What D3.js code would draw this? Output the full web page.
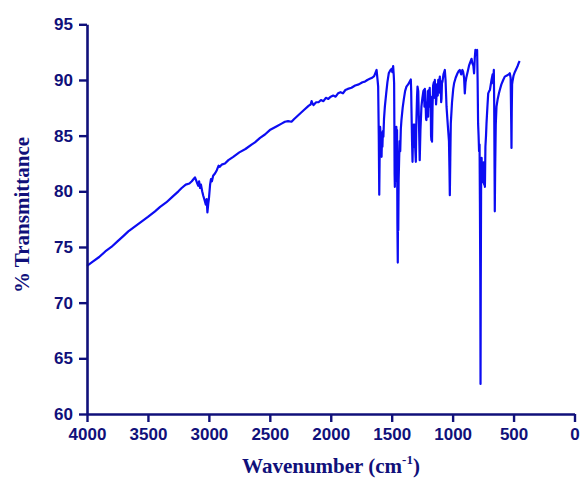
<!DOCTYPE html>
<html>
<head>
<meta charset="utf-8">
<script src="https://cdn.jsdelivr.net/npm/d3@7"></script>
<style>
  html, body { margin: 0; padding: 0; background: #ffffff; }
  svg { display: block; }
</style>
</head>
<body>
<svg id="chart" width="582" height="483"></svg>
<script>
// IR spectrum: wavenumber (cm^-1) and % transmittance, high to low wavenumber
const wavenumbers = [
  4000,3950,3900,3850,3800,3750,3700,3661,3600,3550,3500,3442,3400,3350,3300,3250,3223,3190,3160,3140,
  3125,3114,3105,3095,3087,3080,3072,3065,3055,3046,3035,3025,3018,3012,3005,3000,2990,2983,2975,2965,
  2950,2935,2920,2910,2895,2868,2840,2800,2750,2700,2650,2622,2580,2540,2500,2450,2400,2376,2350,2322,
  2300,2260,2220,2180,2165,2157,2150,2141,2120,2100,2080,2060,2040,2020,2000,1980,1960,1940,1920,1900,
  1880,1860,1830,1800,1770,1740,1720,1700,1680,1660,1644,1635,1624,1615,1611,1606,1602,1598,1595,1592,
  1589,1586,1583,1580,1576,1572,1568,1563,1556,1545,1535,1524,1510,1500,1495,1488,1483,1480,1478,1476,
  1474,1471,1468,1465,1462,1459,1456,1453,1450,1448,1446,1443,1439,1435,1430,1425,1420,1410,1400,1390,
  1379,1365,1355,1343,1340,1338,1333,1329,1325,1322,1319,1316,1313,1310,1305,1302,1298,1292,1288,1282,
  1276,1270,1264,1256,1248,1240,1235,1231,1228,1225,1222,1218,1215,1211,1208,1204,1201,1196,1192,1188,
  1184,1180,1177,1174,1171,1169,1165,1160,1154,1150,1146,1143,1140,1136,1133,1129,1126,1122,1118,1114,
  1110,1105,1101,1098,1094,1091,1087,1084,1075,1064,1058,1050,1040,1030,1026,1023,1019,1015,1005,995,
  988,975,960,950,941,930,920,914,906,900,894,886,875,865,855,845,838,830,824,818,
  813,805,799,795,791,787,783,779,776,773,771,769,766,762,759,755,750,746,741,737,
  735,731,726,722,715,708,700,694,681,672,667,662,659,656,654,651,646,640,630,620,
  613,600,585,572,555,540,531,524,519,517,515,512,509,500,490,477,465,455,450
];
const transmittance = [
  73.3,73.7,74.1,74.6,75.0,75.5,76.0,76.4,76.9,77.3,77.7,78.2,78.6,79.0,79.5,80.0,80.3,80.6,80.7,80.9,
  81.1,81.25,81.0,80.7,80.5,80.9,80.3,80.6,80.0,79.6,79.2,78.8,79.3,78.1,78.9,79.3,80.6,81.1,80.9,81.4,
  81.6,81.9,82.3,82.2,82.4,82.5,82.8,83.1,83.5,83.8,84.2,84.4,84.8,85.1,85.5,85.8,86.1,86.25,86.3,86.25,
  86.5,86.9,87.3,87.7,87.8,88.1,87.9,87.75,88.0,88.0,88.2,88.1,88.4,88.3,88.5,88.6,88.5,88.8,88.9,88.8,
  89.1,89.2,89.3,89.5,89.6,89.8,89.85,90.0,90.1,90.2,90.35,90.6,90.9,89.9,89.4,85.0,79.7,84.0,85.8,85.2,
  84.0,85.3,83.1,84.6,84.0,85.4,84.9,86.5,87.6,88.8,89.8,90.6,90.9,91.0,90.7,91.25,90.4,89.7,86.0,81.5,
  80.4,84.0,80.9,84.6,85.8,84.2,85.5,77.0,73.6,79.0,76.5,81.0,82.8,84.5,83.6,85.6,86.4,87.5,88.3,89.0,
  89.4,89.6,89.8,90.05,89.0,87.6,84.5,82.65,85.0,84.0,86.0,85.2,86.0,84.6,83.4,82.65,86.0,88.5,89.4,89.0,
  86.0,82.8,85.5,87.6,88.4,89.0,89.1,87.6,89.2,87.9,88.0,86.5,86.4,88.0,87.5,89.0,86.7,89.1,88.0,89.3,
  87.6,88.5,85.0,84.6,86.5,84.45,87.5,89.5,89.8,88.4,90.0,88.8,89.5,87.8,88.35,89.6,89.5,88.6,90.0,88.9,
  89.7,90.3,88.8,89.8,88.0,88.35,89.9,89.8,90.5,90.9,90.0,87.6,86.0,84.5,82.0,79.65,83.0,86.1,88.0,89.2,
  89.7,90.2,90.6,90.8,90.9,90.5,90.9,90.75,90.2,88.8,89.8,90.3,90.8,91.3,91.6,91.9,91.5,91.3,90.6,92.0,
  92.7,92.6,92.7,90.0,86.1,85.0,83.6,84.2,79.0,72.0,62.7,72.0,81.5,83.0,81.0,82.5,80.8,82.6,80.6,82.0,
  80.4,84.0,85.0,86.1,87.5,88.8,89.0,89.1,90.0,90.5,89.7,90.9,88.0,82.0,78.2,82.0,86.0,87.6,88.3,88.8,
  89.1,89.6,90.0,90.3,90.4,90.5,90.6,90.2,86.0,83.9,87.0,89.6,89.85,90.4,90.7,91.0,91.3,91.6,91.7
];
const xTicks = [4000, 3500, 3000, 2500, 2000, 1500, 1000, 500, 0];
const yTicks = [60, 65, 70, 75, 80, 85, 90, 95];

const axisColor = "#10107a";
const lineColor = "#0c0cf2";

const svg = d3.select("#chart");

const x = d3.scaleLinear().domain([4000, 0]).range([87, 574.5]);
const y = d3.scaleLinear().domain([60, 95]).range([414, 24.3]);

const points = wavenumbers.map((w, i) => [w, transmittance[i]]);

// spectrum trace
svg.append("path")
  .datum(points)
  .attr("fill", "none")
  .attr("stroke", lineColor)
  .attr("stroke-width", 2.2)
  .attr("stroke-linejoin", "round")
  .attr("d", d3.line().x(d => x(d[0])).y(d => y(d[1])));

// axes
const xAxis = svg.append("g")
  .attr("transform", "translate(0,414)")
  .call(d3.axisBottom(x).tickValues(xTicks).tickFormat(d3.format("d"))
    .tickSize(8).tickSizeOuter(0).tickPadding(6));

const yAxis = svg.append("g")
  .attr("transform", "translate(87,0)")
  .call(d3.axisLeft(y).tickValues(yTicks).tickFormat(d3.format("d"))
    .tickSize(8).tickSizeOuter(0).tickPadding(6));

[xAxis, yAxis].forEach(g => {
  g.select(".domain").attr("stroke", axisColor).attr("stroke-width", 2.6);
  g.selectAll(".tick line").attr("stroke", axisColor).attr("stroke-width", 2.4);
  g.selectAll(".tick text")
    .attr("fill", axisColor)
    .style("font-family", "'Liberation Sans', Arial, sans-serif")
    .style("font-weight", "bold")
    .style("font-size", "17px");
});

// axis titles
svg.append("text")
  .attr("transform", "translate(29,215) rotate(-90)")
  .attr("text-anchor", "middle")
  .attr("fill", axisColor)
  .style("font-family", "'Liberation Serif', 'Times New Roman', serif")
  .style("font-weight", "bold")
  .style("font-size", "21px")
  .text("% Transmittance");

const xt = svg.append("text")
  .attr("x", 331)
  .attr("y", 473)
  .attr("text-anchor", "middle")
  .attr("fill", axisColor)
  .style("font-family", "'Liberation Serif', 'Times New Roman', serif")
  .style("font-weight", "bold")
  .style("font-size", "21px");
xt.append("tspan").text("Wavenumber (cm");
xt.append("tspan").attr("dy", -9).style("font-size", "13px").text("-1");
xt.append("tspan").attr("dy", 9).text(")");
</script>
</body>
</html>
